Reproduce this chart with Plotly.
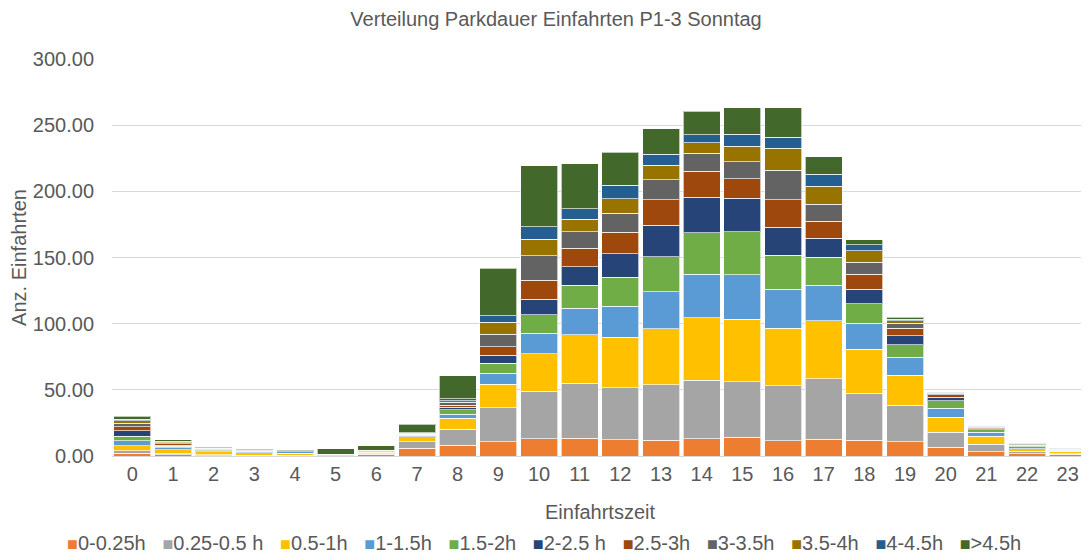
import plotly.graph_objects as go

hours = list(range(24))
hour_labels = [str(h) for h in hours]

series_names = ["0-0.25h", "0.25-0.5 h", "0.5-1h", "1-1.5h", "1.5-2h", "2-2.5 h",
                "2.5-3h", "3-3.5h", "3.5-4h", "4-4.5h", ">4.5h"]
colors = ["#ED7D31", "#A5A5A5", "#FFC000", "#5B9BD5", "#70AD47", "#264478",
          "#9E480E", "#636363", "#997300", "#255E91", "#43682B"]

s_0_025 = [2.0, 0.8, 0.3, 0.3, 0.3, 0.3, 1.2, 5.8, 8.1, 10.8, 13.1, 13.4, 12.3, 11.9, 13.1, 14.1, 11.6, 12.6, 11.9, 10.8, 6.6, 3.3, 1.8, 1.2]
s_025_05 = [1.8, 0.8, 0.5, 0.3, 0.3, 0.5, 0.5, 5.0, 12.1, 25.7, 35.8, 41.5, 39.3, 42.0, 44.3, 42.1, 41.5, 45.8, 35.5, 27.7, 11.3, 5.5, 1.8, 0.5]
s_05_1 = [4.0, 3.0, 2.5, 2.0, 1.5, 0.3, 1.2, 3.8, 8.5, 17.7, 28.2, 36.6, 38.3, 42.3, 47.1, 47.1, 43.4, 43.9, 33.2, 22.7, 11.3, 6.3, 1.8, 1.8]
s_1_15 = [3.8, 1.5, 0.8, 0.8, 1.0, 0.0, 0.5, 1.2, 3.0, 8.3, 15.6, 20.1, 23.3, 28.0, 32.8, 33.5, 29.5, 26.7, 19.7, 13.4, 6.8, 2.8, 1.5, 1.0]
s_15_2 = [3.5, 1.3, 0.8, 0.3, 0.3, 0.0, 0.6, 0.5, 3.3, 7.6, 13.9, 17.4, 21.9, 26.2, 31.3, 32.5, 25.7, 21.2, 14.6, 9.3, 5.6, 1.8, 1.2, 0.3]
s_2_25 = [3.8, 0.8, 0.2, 0.3, 0.0, 0.0, 0.0, 0.0, 1.8, 6.2, 11.8, 14.1, 17.8, 24.0, 26.9, 25.5, 21.2, 14.4, 11.1, 7.1, 2.8, 0.9, 0.3, 0.2]
s_25_3 = [3.2, 1.0, 0.2, 0.0, 0.0, 0.0, 0.0, 0.0, 1.7, 6.3, 14.6, 13.9, 16.2, 19.1, 19.7, 14.9, 20.6, 12.8, 11.3, 5.5, 1.8, 0.6, 0.2, 0.0]
s_3_35 = [2.6, 1.0, 0.5, 0.5, 0.5, 0.0, 0.0, 0.5, 2.1, 9.4, 18.4, 12.5, 14.3, 15.3, 13.6, 12.8, 22.5, 12.9, 9.1, 3.8, 1.2, 0.6, 0.5, 0.3]
s_35_4 = [2.0, 0.5, 0.2, 0.2, 0.0, 0.2, 0.2, 0.3, 1.3, 9.1, 12.4, 9.4, 11.1, 10.9, 7.8, 11.4, 16.6, 13.6, 8.8, 2.0, 0.3, 0.3, 0.2, 0.2]
s_4_45 = [1.0, 0.5, 0.2, 0.2, 0.2, 0.0, 0.2, 0.4, 1.3, 4.9, 9.5, 8.1, 10.1, 8.3, 6.0, 9.3, 8.3, 9.0, 4.3, 1.2, 0.4, 0.3, 0.2, 0.2]
s_gt_45 = [2.3, 1.0, 0.3, 0.3, 0.2, 4.2, 3.4, 6.6, 17.4, 35.9, 45.9, 33.7, 24.9, 19.2, 17.9, 20.1, 22.4, 13.3, 4.0, 1.3, 0.5, 0.5, 0.3, 0.3]

series_values = [s_0_025, s_025_05, s_05_1, s_1_15, s_15_2, s_2_25,
                 s_25_3, s_3_35, s_35_4, s_4_45, s_gt_45]

FONT = "Liberation Sans, Arial, sans-serif"
TXT = "#595959"

fig = go.Figure()
for name, vals, col in zip(series_names, series_values, colors):
    fig.add_trace(go.Bar(
        x=hours, y=vals, name=name,
        marker=dict(color=col, line=dict(color="rgba(255,255,255,0.65)", width=1)),
        showlegend=False,
    ))

# legend line (Excel style: small square directly before each label)
def esc(s):
    return s.replace("&", "&amp;").replace("<", "&lt;").replace(">", "&gt;")

legend_parts = []
for name, col in zip(series_names, colors):
    legend_parts.append(
        "<span style='color:%s;font-size:18px'>■</span>%s" % (col, esc(name)))
legend_text = "&nbsp;&nbsp;&nbsp;".join(legend_parts)

fig.add_annotation(
    text=legend_text, xref="paper", yref="paper", x=0.4426, y=-0.219,
    xanchor="center", yanchor="middle", showarrow=False,
    font=dict(family=FONT, size=20, color=TXT),
)

# page body has an 8px margin, so the figure is sized/offset to fit the window
fig.update_layout(
    barmode="stack",
    bargap=0.09,
    width=1081, height=548,
    paper_bgcolor="white", plot_bgcolor="white",
    margin=dict(l=104, r=1, t=51, b=100, autoexpand=False),
    font=dict(family=FONT, color=TXT, size=20),
    title=dict(text="Verteilung Parkdauer Einfahrten P1-3 Sonntag",
               x=0.507, xanchor="center",
               y=0.98, yanchor="middle", xref="container", yref="container",
               font=dict(family=FONT, size=20, color=TXT)),
    showlegend=False,
)

fig.update_xaxes(
    tickmode="array", tickvals=hours, ticktext=hour_labels,
    range=[-0.5, 23.5], automargin=False,
    showgrid=False, showline=True, linecolor="#d9d9d9", linewidth=1,
    ticks="", tickfont=dict(size=20, color=TXT),
    title=dict(text="Einfahrtszeit", font=dict(size=20, color=TXT), standoff=20),
)
fig.update_yaxes(
    range=[0, 300], dtick=50, tickformat=".2f", automargin=False,
    showgrid=True, gridcolor="#d9d9d9", gridwidth=1,
    zeroline=False, showline=False,
    ticks="", ticklabelstandoff=17, tickfont=dict(size=20, color=TXT),
    title=dict(text="Anz. Einfahrten", font=dict(size=20, color=TXT), standoff=2),
)

fig.write_html("out.html")
